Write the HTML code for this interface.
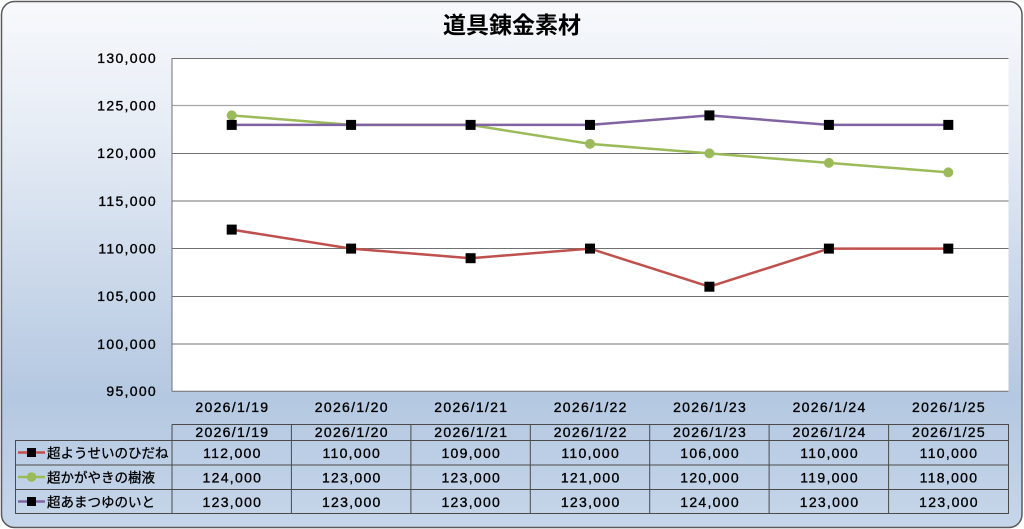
<!DOCTYPE html>
<html><head><meta charset="utf-8">
<style>
html,body{margin:0;padding:0;width:1024px;height:529px;overflow:hidden;background:#fff;}
svg{display:block;}
text{font-family:"Liberation Sans","Noto Sans CJK JP",sans-serif;fill:#000;}
.n{font-size:14px;letter-spacing:1.3px;stroke:#000;stroke-width:0.35px;}
.l{font-size:13.5px;stroke:#000;stroke-width:0.3px;}
</style></head><body>
<svg width="1024" height="529" viewBox="0 0 1024 529" xmlns="http://www.w3.org/2000/svg">
<defs>
<linearGradient id="bg" x1="0" y1="0" x2="0" y2="1">
<stop offset="0" stop-color="#f7f9fc"/>
<stop offset="0.25" stop-color="#e6ecf5"/>
<stop offset="0.75" stop-color="#b4c8e1"/>
<stop offset="1" stop-color="#c6d6ea"/>
</linearGradient>
</defs>
<rect x="1.5" y="1.5" width="1020.5" height="526" rx="13" ry="13" fill="url(#bg)" stroke="#5a5a5a" stroke-width="1.5"/>
<text x="512" y="33" text-anchor="middle" style="font-size:23px;font-weight:bold;">道具錬金素材</text>
<!-- plot area -->
<rect x="172" y="58.3" width="836.5" height="333" fill="#fff"/>
<g stroke="#707070" stroke-width="1">
<line x1="172" y1="58.5" x2="1008.5" y2="58.5"/>
<line x1="172" y1="105.5" x2="1008.5" y2="105.5" stroke="#a6a6a6" stroke-width="1.3"/>
<line x1="172" y1="153.5" x2="1008.5" y2="153.5"/>
<line x1="172" y1="201" x2="1008.5" y2="201"/>
<line x1="172" y1="248.5" x2="1008.5" y2="248.5"/>
<line x1="172" y1="296.5" x2="1008.5" y2="296.5"/>
<line x1="172" y1="344" x2="1008.5" y2="344"/>
<line x1="172" y1="391.3" x2="1008.5" y2="391.3"/>
<line x1="172" y1="58" x2="172" y2="391.5"/>
</g>
<!-- y labels -->
<g class="n" text-anchor="end">
<text x="157" y="63">130,000</text>
<text x="157" y="110.5">125,000</text>
<text x="157" y="158">120,000</text>
<text x="157" y="206">115,000</text>
<text x="157" y="253.5">110,000</text>
<text x="157" y="301">105,000</text>
<text x="157" y="349">100,000</text>
<text x="157" y="396">95,000</text>
</g>
<!-- series -->
<polyline fill="none" stroke="#c0504d" stroke-width="2.5" points="231.7,229.6 351.1,248.6 470.6,258.2 590,248.6 709.4,286.7 828.9,248.6 948.3,248.6"/>
<polyline fill="none" stroke="#9bbb59" stroke-width="2.5" points="231.7,115.4 351.1,124.9 470.6,124.9 590,143.9 709.4,153.4 828.9,162.9 948.3,172.4"/>
<g fill="#9bbb59">
<circle cx="231.7" cy="115.4" r="5"/><circle cx="351.1" cy="124.9" r="5"/><circle cx="470.6" cy="124.9" r="5"/><circle cx="590" cy="143.9" r="5"/><circle cx="709.4" cy="153.4" r="5"/><circle cx="828.9" cy="162.9" r="5"/><circle cx="948.3" cy="172.4" r="5"/>
</g>
<polyline fill="none" stroke="#8064a2" stroke-width="2.5" points="231.7,124.9 351.1,124.9 470.6,124.9 590,124.9 709.4,115.4 828.9,124.9 948.3,124.9"/>
<g fill="#000">
<rect x="226.7" y="224.6" width="10" height="10"/><rect x="346.1" y="243.6" width="10" height="10"/><rect x="465.6" y="253.2" width="10" height="10"/><rect x="585" y="243.6" width="10" height="10"/><rect x="704.4" y="281.7" width="10" height="10"/><rect x="823.9" y="243.6" width="10" height="10"/><rect x="943.3" y="243.6" width="10" height="10"/>
<rect x="226.7" y="119.9" width="10" height="10"/><rect x="346.1" y="119.9" width="10" height="10"/><rect x="465.6" y="119.9" width="10" height="10"/><rect x="585" y="119.9" width="10" height="10"/><rect x="704.4" y="110.4" width="10" height="10"/><rect x="823.9" y="119.9" width="10" height="10"/><rect x="943.3" y="119.9" width="10" height="10"/>
</g>
<!-- x axis labels -->
<g class="n" text-anchor="middle">
<text x="232.4" y="412">2026/1/19</text>
<text x="351.8" y="412">2026/1/20</text>
<text x="471.3" y="412">2026/1/21</text>
<text x="590.7" y="412">2026/1/22</text>
<text x="710.1" y="412">2026/1/23</text>
<text x="829.6" y="412">2026/1/24</text>
<text x="949" y="412">2026/1/25</text>
</g>
<!-- data table -->
<g stroke="#4a4a4a" stroke-width="1" fill="none">
<line x1="172" y1="424.5" x2="1009" y2="424.5"/>
<line x1="15" y1="440.5" x2="1009" y2="440.5"/>
<line x1="15" y1="465" x2="1009" y2="465"/>
<line x1="15" y1="489.5" x2="1009" y2="489.5"/>
<line x1="15" y1="513.5" x2="1009" y2="513.5"/>
<line x1="15.5" y1="440.5" x2="15.5" y2="513.5"/>
<line x1="172" y1="424.5" x2="172" y2="513.5"/>
<line x1="291.4" y1="424.5" x2="291.4" y2="513.5"/>
<line x1="410.9" y1="424.5" x2="410.9" y2="513.5"/>
<line x1="530.3" y1="424.5" x2="530.3" y2="513.5"/>
<line x1="649.7" y1="424.5" x2="649.7" y2="513.5"/>
<line x1="769.1" y1="424.5" x2="769.1" y2="513.5"/>
<line x1="888.6" y1="424.5" x2="888.6" y2="513.5"/>
<line x1="1008.5" y1="424.5" x2="1008.5" y2="513.5"/>
</g>
<g class="n" text-anchor="middle">
<text x="232.4" y="437">2026/1/19</text>
<text x="351.8" y="437">2026/1/20</text>
<text x="471.3" y="437">2026/1/21</text>
<text x="590.7" y="437">2026/1/22</text>
<text x="710.1" y="437">2026/1/23</text>
<text x="829.6" y="437">2026/1/24</text>
<text x="949" y="437">2026/1/25</text>

<text x="232.4" y="458">112,000</text>
<text x="351.8" y="458">110,000</text>
<text x="471.3" y="458">109,000</text>
<text x="590.7" y="458">110,000</text>
<text x="710.1" y="458">106,000</text>
<text x="829.6" y="458">110,000</text>
<text x="949" y="458">110,000</text>

<text x="232.4" y="482.5">124,000</text>
<text x="351.8" y="482.5">123,000</text>
<text x="471.3" y="482.5">123,000</text>
<text x="590.7" y="482.5">121,000</text>
<text x="710.1" y="482.5">120,000</text>
<text x="829.6" y="482.5">119,000</text>
<text x="949" y="482.5">118,000</text>

<text x="232.4" y="507">123,000</text>
<text x="351.8" y="507">123,000</text>
<text x="471.3" y="507">123,000</text>
<text x="590.7" y="507">123,000</text>
<text x="710.1" y="507">124,000</text>
<text x="829.6" y="507">123,000</text>
<text x="949" y="507">123,000</text>
</g>
<!-- legend keys -->
<line x1="18" y1="452.5" x2="45" y2="452.5" stroke="#c0504d" stroke-width="2.5"/>
<rect x="27" y="448" width="9" height="9" fill="#000"/>
<line x1="18" y1="477" x2="45" y2="477" stroke="#9bbb59" stroke-width="2.5"/>
<circle cx="31.5" cy="477" r="4.8" fill="#9bbb59"/>
<line x1="18" y1="501.5" x2="45" y2="501.5" stroke="#8064a2" stroke-width="2.5"/>
<rect x="27" y="497" width="9" height="9" fill="#000"/>
<g class="l">
<text x="47" y="458">超ようせいのひだね</text>
<text x="47" y="482.5">超かがやきの樹液</text>
<text x="47" y="507">超あまつゆのいと</text>
</g>
</svg>
</body></html>
